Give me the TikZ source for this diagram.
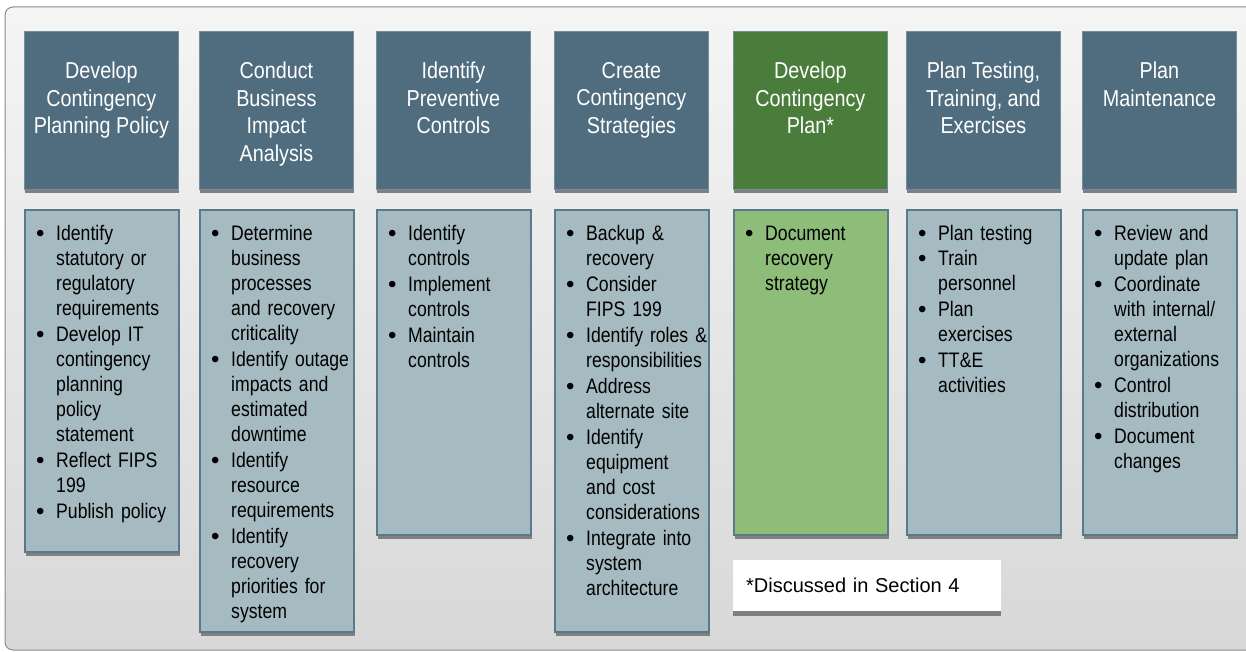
\documentclass[tikz,border=0pt]{standalone}
\usepackage{fontspec}
\setmainfont{Liberation Sans}
\newfontfamily\headfont{Liberation Sans}[FakeStretch=0.86]
\newfontfamily\listfont{Liberation Sans}[FakeStretch=0.84]
\newfontfamily\dotfont{Liberation Sans}
\usetikzlibrary{positioning,shadows}

\definecolor{headfill}{RGB}{79,109,126}
\definecolor{headline}{RGB}{116,142,158}
\definecolor{bodyfill}{RGB}{165,186,193}
\definecolor{bodyline}{RGB}{88,122,139}
\definecolor{greenhead}{RGB}{74,124,59}
\definecolor{greenbody}{RGB}{141,189,120}
\definecolor{shadowgray}{RGB}{128,128,128}
\definecolor{frametop}{RGB}{245,245,245}
\definecolor{framebottom}{RGB}{216,216,216}
\definecolor{frameline}{RGB}{138,138,138}

% one bullet point, lines split with \\
\newcommand\bitem[1]{\noindent\makebox[20pt][l]{\dotfont\fontsize{24}{25}\selectfont
  \raisebox{-1pt}{\textbullet}}%
  \begin{tabular}[t]{@{}l@{}}#1\end{tabular}\par}

\tikzset{
  headbox/.style={draw=headline, line width=0.8pt, fill=headfill, anchor=north west,
    minimum width=154pt, minimum height=158pt, inner sep=0pt,
    drop shadow={opacity=1, fill=shadowgray, shadow xshift=1pt, shadow yshift=-4pt}},
  headtext/.style={text=white, font=\headfont\fontsize{23}{27.5}\selectfont,
    align=center, inner sep=0pt},
  bodybox/.style={draw=bodyline, line width=2pt, fill=bodyfill, anchor=north west,
    minimum width=154pt, inner sep=0pt,
    drop shadow={opacity=1, fill=shadowgray, shadow xshift=1pt, shadow yshift=-4pt}},
  listtext/.style={font=\listfont\fontsize{21}{25}\selectfont, text width=140pt,
    inner sep=0pt},
  notebox/.style={fill=white, anchor=north west, text width=242pt, inner xsep=13pt,
    minimum height=51pt, font=\fontsize{20}{24}\selectfont,
    drop shadow={opacity=1, fill=shadowgray, shadow xshift=0pt, shadow yshift=-5pt}}
}

\begin{document}
\begin{tikzpicture}[x=1pt,y=-1pt]
\useasboundingbox (0,0) rectangle (1246,652);

% background panel
\shade[draw=frameline, line width=1pt, rounded corners=8pt,
  top color=frametop, bottom color=framebottom] (5,7) rectangle (1275,650);

% step headings
\node[headbox] (h1) at (24,31) {};
\node[headbox] (h2) at (199,31) {};
\node[headbox] (h3) at (376,31) {};
\node[headbox] (h4) at (554,31) {};
\node[headbox, fill=greenhead] (h5) at (733,31) {};
\node[headbox] (h6) at (906,31) {};
\node[headbox] (h7) at (1082,31) {};

\node[headtext, below=31pt of h1.north] (t1) {Develop\\Contingency\\Planning Policy};
\node[headtext, below=31pt of h2.north] (t2) {Conduct\\Business\\Impact\\Analysis};
\node[headtext, below=31pt of h3.north] (t3) {Identify\\Preventive\\Controls};
\node[headtext, below=31pt of h4.north] (t4) {Create\\Contingency\\Strategies};
\node[headtext, below=31pt of h5.north] (t5) {Develop\\Contingency\\Plan*};
\node[headtext, below=31pt of h6.north] (t6) {Plan Testing,\\Training, and\\Exercises};
\node[headtext, below=31pt of h7.north] (t7) {Plan\\Maintenance};

% task lists
\node[bodybox, minimum height=342pt] (b1) at (24,209) {};
\node[bodybox, minimum height=422pt] (b2) at (199,209) {};
\node[bodybox, minimum height=325pt] (b3) at (376,209) {};
\node[bodybox, minimum height=422pt] (b4) at (554,209) {};
\node[bodybox, minimum height=325pt, fill=greenbody] (b5) at (733,209) {};
\node[bodybox, minimum height=325pt] (b6) at (906,209) {};
\node[bodybox, minimum height=325pt] (b7) at (1082,209) {};

\node[listtext, below right=14pt and 12pt of b1.north west] (l1) {%
  \bitem{Identify\\statutory or\\regulatory\\requirements}
  \bitem{Develop IT\\contingency\\planning\\policy\\statement}
  \bitem{Reflect FIPS\\199}
  \bitem{Publish policy}};
\node[listtext, below right=14pt and 12pt of b2.north west] (l2) {%
  \bitem{Determine\\business\\processes\\and recovery\\criticality}
  \bitem{Identify outage\\impacts and\\estimated\\downtime}
  \bitem{Identify\\resource\\requirements}
  \bitem{Identify\\recovery\\priorities for\\system}};
\node[listtext, below right=14pt and 12pt of b3.north west] (l3) {%
  \bitem{Identify\\controls}
  \bitem{Implement\\controls}
  \bitem{Maintain\\controls}};
\node[listtext, below right=14pt and 12pt of b4.north west] (l4) {%
  \bitem{Backup \&\\recovery}
  \bitem{Consider\\FIPS 199}
  \bitem{Identify roles \&\\responsibilities}
  \bitem{Address\\alternate site}
  \bitem{Identify\\equipment\\and cost\\considerations}
  \bitem{Integrate into\\system\\architecture}};
\node[listtext, below right=14pt and 12pt of b5.north west] (l5) {%
  \bitem{Document\\recovery\\strategy}};
\node[listtext, below right=14pt and 12pt of b6.north west] (l6) {%
  \bitem{Plan testing}
  \bitem{Train\\personnel}
  \bitem{Plan\\exercises}
  \bitem{TT\&E\\activities}};
\node[listtext, below right=14pt and 12pt of b7.north west] (l7) {%
  \bitem{Review and\\update plan}
  \bitem{Coordinate\\with internal/\\external\\organizations}
  \bitem{Control\\distribution}
  \bitem{Document\\changes}};

% footnote
\node[notebox] (n1) at (733,560) {*Discussed in Section 4};

\end{tikzpicture}
\end{document}
